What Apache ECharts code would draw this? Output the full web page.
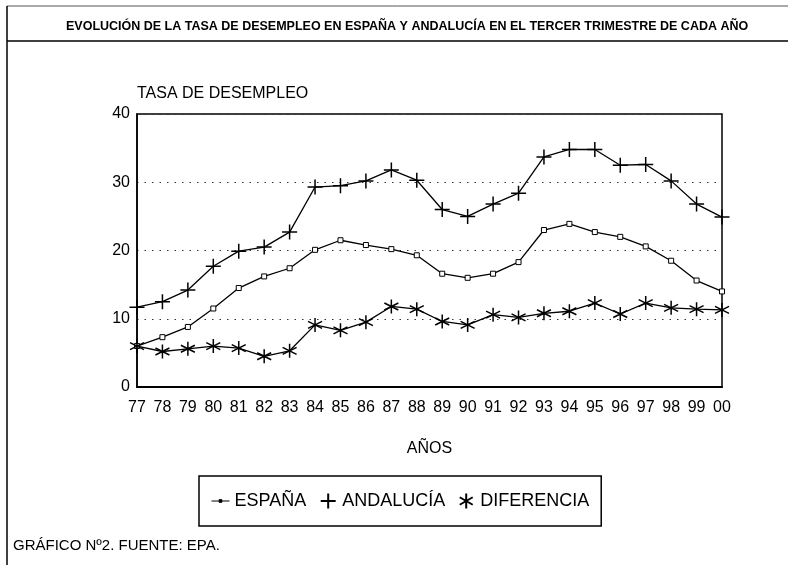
<!DOCTYPE html>
<html>
<head>
<meta charset="utf-8">
<script src="https://cdn.jsdelivr.net/npm/echarts@6/dist/echarts.min.js"></script>
<style>
html,body{margin:0;padding:0;background:#fff;}
#chart{width:795px;height:565px;}
</style>
</head>
<body>
<div id="chart"></div>
<script>
var years = ['77','78','79','80','81','82','83','84','85','86','87','88','89','90','91','92','93','94','95','96','97','98','99','00'];
var espana = [6.0,7.3,8.8,11.5,14.5,16.2,17.4,20.1,21.5,20.8,20.2,19.3,16.6,16.0,16.6,18.3,23.0,23.9,22.7,22.0,20.6,18.5,15.6,14.0];
var andalucia = [11.7,12.5,14.2,17.7,19.9,20.5,22.7,29.3,29.5,30.2,31.8,30.3,26.0,25.0,26.8,28.4,33.7,34.8,34.8,32.5,32.6,30.2,26.8,24.9];
var diferencia = [6.0,5.2,5.6,6.0,5.7,4.5,5.3,9.1,8.3,9.5,11.8,11.4,9.6,9.1,10.6,10.2,10.8,11.1,12.3,10.7,12.3,11.6,11.4,11.3];
var yTicks = [0,10,20,30,40];

var FONT = '"Liberation Sans", Arial, sans-serif';
var chart = echarts.init(document.getElementById('chart'), null, {renderer:'canvas'});
var plusPath = 'path://M0,-1L0,1M-1,0L1,0';
var starPath = 'path://M0,-1L0,1M-0.866,-0.5L0.866,0.5M-0.866,0.5L0.866,-0.5';
var espIcon = 'path://M0,0L20,0M8.5,-1.5L11.5,-1.5L11.5,1.5L8.5,1.5Z';

chart.setOption({
  backgroundColor:'#fff',
  animation:false,
  title:[{
    text:'EVOLUCIÓN DE LA TASA DE DESEMPLEO EN ESPAÑA Y ANDALUCÍA EN EL TERCER TRIMESTRE DE CADA AÑO',
    left:66, top:20, padding:0,
    textStyle:{fontFamily:FONT,fontSize:12.5,fontWeight:'bold',color:'#000'}
  },{
    text:'GRÁFICO Nº2. FUENTE: EPA.',
    left:13, top:538, padding:0,
    textStyle:{fontFamily:FONT,fontSize:15,fontWeight:'normal',color:'#000'}
  }],
  graphic:[
    {type:'line',shape:{x1:7,y1:6,x2:788,y2:6},style:{stroke:'#555',lineWidth:1}},
    {type:'line',shape:{x1:7,y1:41,x2:788,y2:41},style:{stroke:'#000',lineWidth:1.5}},
    {type:'line',shape:{x1:7,y1:6,x2:7,y2:565},style:{stroke:'#000',lineWidth:1.5}}
  ],
  legend:{
    left:199, top:476,
    padding:[15,12],
    borderColor:'#000', borderWidth:1.5,
    itemGap:12, itemWidth:18, itemHeight:15,
    textStyle:{fontFamily:FONT,fontSize:18,color:'#000'},
    data:[
      {name:'ESPAÑA',icon:espIcon,itemStyle:{color:'#000',borderColor:'#000',borderWidth:1}},
      {name:'ANDALUCÍA',icon:plusPath},
      {name:'DIFERENCIA',icon:starPath}
    ]
  },
  grid:{left:137,right:73,top:114,bottom:178,show:true,borderColor:'#000',borderWidth:1.5,backgroundColor:'transparent'},
  xAxis:{
    type:'category', data:years, boundaryGap:false,
    name:'AÑOS', nameLocation:'middle', nameGap:54,
    nameTextStyle:{fontFamily:FONT,fontSize:16,color:'#000'},
    axisLine:{lineStyle:{color:'#000',width:2}},
    axisTick:{show:false},
    axisLabel:{interval:0,fontFamily:FONT,fontSize:16,color:'#000',margin:13}
  },
  yAxis:{
    type:'value', min:0, max:40, interval:10,
    name:'TASA DE DESEMPLEO', nameLocation:'end', nameGap:12,
    nameTextStyle:{fontFamily:FONT,fontSize:16,color:'#000',align:'left',verticalAlign:'bottom',padding:0},
    axisLine:{show:true,lineStyle:{color:'#000',width:1.5}},
    axisTick:{show:false},
    axisLabel:{fontFamily:FONT,fontSize:16,color:'#000',margin:7},
    splitLine:{show:true,lineStyle:{color:'#333',type:[1.5,6],width:1.2}}
  },
  series:[
    {name:'ESPAÑA',type:'line',data:espana,symbol:'rect',symbolSize:5,
     lineStyle:{color:'#000',width:1.3},
     itemStyle:{color:'#fff',borderColor:'#000',borderWidth:1}},
    {name:'ANDALUCÍA',type:'line',data:andalucia,symbol:plusPath,symbolSize:15,
     lineStyle:{color:'#000',width:1.3},
     itemStyle:{color:'none',borderColor:'#000',borderWidth:1.5}},
    {name:'DIFERENCIA',type:'line',data:diferencia,symbol:starPath,symbolSize:14,
     lineStyle:{color:'#000',width:1.3},
     itemStyle:{color:'none',borderColor:'#000',borderWidth:1.5}}
  ]
});
</script>
</body>
</html>
